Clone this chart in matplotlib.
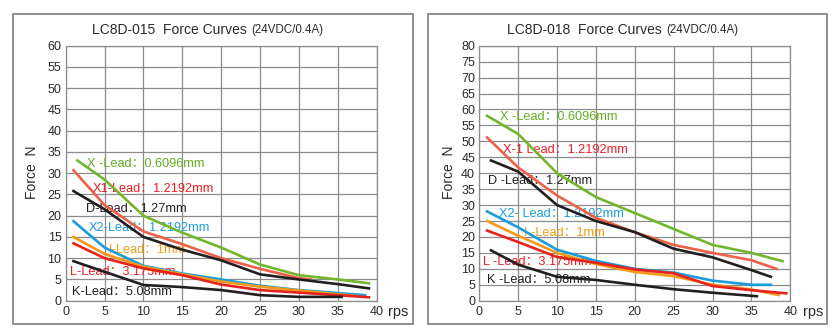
import matplotlib
matplotlib.use("Agg")
import matplotlib.pyplot as plt
from matplotlib.patches import Rectangle

plt.rcParams['font.family'] = ['Liberation Sans', 'Noto Sans CJK SC', 'DejaVu Sans']

# цвета серий
GREEN = '#72b62c'
SALMON = '#ef6048'
RED = '#e8221c'
BLUE = '#1a9ddb'
ORANGE = '#f49a18'
BLACK = '#231f20'

# ---- LC8D-015 ----
x_015_X = [1.5, 5, 10, 15, 20, 25, 30, 35, 39]
y_015_X = [33, 28.5, 20, 16, 12.5, 8.5, 6, 5, 4.1]
x_015_X1 = [1, 5, 10, 15, 20, 25, 30, 31.5]
y_015_X1 = [30.7, 22.5, 16.3, 13.3, 10, 7.5, 5.3, 5.0]
x_015_D = [1, 5, 10, 15, 20, 25, 30, 35, 39]
y_015_D = [25.8, 21.5, 15, 12, 9.5, 6.2, 5, 3.9, 2.9]
x_015_X2 = [1, 5, 10, 15, 20, 25, 30, 35, 38.5]
y_015_X2 = [18.7, 12.5, 8.2, 6.4, 5, 3.5, 2.5, 1.8, 1.3]
x_015_I = [1, 5, 10, 15, 20, 25, 30, 35, 37.5]
y_015_I = [15, 11, 8, 6.2, 4.5, 3.3, 2.4, 1.5, 1.1]
x_015_L = [1, 5, 10, 15, 20, 25, 30, 35, 39]
y_015_L = [13.5, 10, 7.6, 6, 3.8, 2.5, 1.9, 1.3, 0.8]
x_015_K = [1, 5, 10, 15, 20, 25, 30, 35.5]
y_015_K = [9.3, 6.8, 3.7, 3.2, 2.5, 1.3, 0.9, 0.9]

labels_015 = ['X -Lead：0.6096mm', 'X1-Lead：1.2192mm', 'D-Lead：1.27mm',
              'X2-Lead：1.2192mm', 'I-Lead：1mm', 'L-Lead：3.175mm', 'K-Lead：5.08mm']
label_pos_015 = [(2.7, 32.2), (3.5, 26.4), (2.6, 21.5), (2.9, 17.2),
                 (5.5, 11.9), (0.55, 6.7), (0.8, 2.1)]

# ---- LC8D-018 ----
x_018_X = [1, 5, 10, 15, 20, 25, 30, 35, 39]
y_018_X = [58, 52.3, 40, 32.5, 27.5, 22.5, 17.5, 15, 12.4]
x_018_X1 = [1, 5, 10, 15, 20, 25, 30, 35, 38.2]
y_018_X1 = [51.2, 41.8, 33, 26, 21.5, 17.5, 15, 12.7, 10]
x_018_D = [1.5, 5, 10, 15, 20, 25, 30, 35, 37.5]
y_018_D = [44, 40.5, 30, 25, 21.5, 16.3, 13.6, 9.6, 7.5]
x_018_X2 = [1, 5, 10, 15, 20, 25, 30, 35, 37.5]
y_018_X2 = [28, 23, 16, 12.5, 10, 8.8, 6.3, 5, 5]
x_018_I = [1, 5, 10, 15, 20, 25, 30, 35, 38.5]
y_018_I = [25, 20.4, 15, 11.5, 9, 7.7, 5, 3.5, 1.8]
x_018_L = [1, 5, 10, 15, 20, 25, 30, 35, 39.5]
y_018_L = [22, 18.4, 13.7, 11.9, 9.8, 8.6, 4.6, 3.3, 2.3]
x_018_K = [1.5, 5, 10, 15, 20, 25, 30, 35.7]
y_018_K = [15.8, 11.3, 7.5, 6.5, 5, 3.6, 2.5, 1.4]

labels_018 = ['X -Lead：0.6096mm', 'X-1 Lead：1.2192mm', 'D -Lead：1.27mm',
              'X2- Lead：1.2192mm', 'I -Lead：1mm', 'L -Lead：3.175mm', 'K -Lead：5.08mm']
label_pos_018 = [(2.7, 57.5), (3.1, 47.3), (1.1, 37.6), (2.5, 27.1),
                 (5.7, 21.3), (0.5, 12.0), (0.95, 6.5)]

line_colors = [GREEN, SALMON, BLACK, BLUE, ORANGE, RED, BLACK]
text_colors = ['#62ad22', '#ee1c24', BLACK, '#1a9ddb', '#f39c12', '#ee1c24', BLACK]

GRID = '#8c8c8c'
INK = '#2a2a2a'


def draw_panel(fig, rect, frame, title, ymax, series, labels, label_pos, ylab_x, rps_x, title_x):
    ax = fig.add_axes(rect)
    ax.set_xlim(0, 40)
    ax.set_ylim(0, ymax)
    ax.set_xticks(range(0, 41, 5))
    ax.set_yticks(range(0, ymax + 1, 5))
    ax.tick_params(length=0, labelsize=9, colors=INK)
    ax.tick_params(axis='y', pad=3)
    ax.tick_params(axis='x', pad=3.5)
    ax.grid(True, color=GRID, lw=0.9, zorder=0)
    ax.set_axisbelow(True)
    for s in ax.spines.values():
        s.set_color(GRID)
        s.set_linewidth(0.9)

    for (xs, ys), c in zip(series, line_colors):
        ax.plot(xs, ys, color=c, lw=1.9, zorder=3, solid_joinstyle='round')

    for txt, (tx, ty), c in zip(labels, label_pos, text_colors):
        ax.text(tx, ty, txt, color=c, fontsize=9.2, ha='left', va='center', zorder=2)

    ax.text(ylab_x, 0.505, 'Force  N', transform=ax.transAxes, rotation=90,
            ha='center', va='center', fontsize=10, color=INK)
    ax.text(rps_x, -0.043, 'rps', transform=ax.transAxes, ha='left', va='center',
            fontsize=10.5, color=INK, clip_on=False)

    t = fig.text(title_x, 1 - 30 / 331, title, fontsize=10, ha='left', va='center', color=INK)
    fig.canvas.draw()
    bb = t.get_window_extent().transformed(fig.transFigure.inverted())
    fig.text(bb.x1 + 5 / 840, 1 - 30 / 331, '(24VDC/0.4A)', fontsize=8.3, ha='left', va='center',
             color=INK)

    x0, y0, x1, y1 = frame
    fig.add_artist(Rectangle((x0 / 840, 1 - y1 / 331), (x1 - x0) / 840, (y1 - y0) / 331,
                             transform=fig.transFigure, fill=False, ec='#8f8f8f', lw=1.4))
    return ax


fig = plt.figure(figsize=(8.4, 3.31), dpi=100)
fig.patch.set_facecolor('white')

series_015 = [(x_015_X, y_015_X), (x_015_X1, y_015_X1), (x_015_D, y_015_D), (x_015_X2, y_015_X2),
              (x_015_I, y_015_I), (x_015_L, y_015_L), (x_015_K, y_015_K)]
series_018 = [(x_018_X, y_018_X), (x_018_X1, y_018_X1), (x_018_D, y_018_D), (x_018_X2, y_018_X2),
              (x_018_I, y_018_I), (x_018_L, y_018_L), (x_018_K, y_018_K)]

draw_panel(fig, [65.7 / 840, 1 - 300.7 / 331, 311 / 840, 255 / 331], (13, 14, 413, 324),
           'LC8D-015  Force Curves', 60, series_015, labels_015, label_pos_015,
           -0.108, 1.036, 92 / 840)
draw_panel(fig, [479.3 / 840, 1 - 300.7 / 331, 311 / 840, 255 / 331], (428, 14, 827, 324),
           'LC8D-018  Force Curves', 80, series_018, labels_018, label_pos_018,
           -0.097, 1.04, 506.7 / 840)

fig.savefig('out.png', dpi=100)
